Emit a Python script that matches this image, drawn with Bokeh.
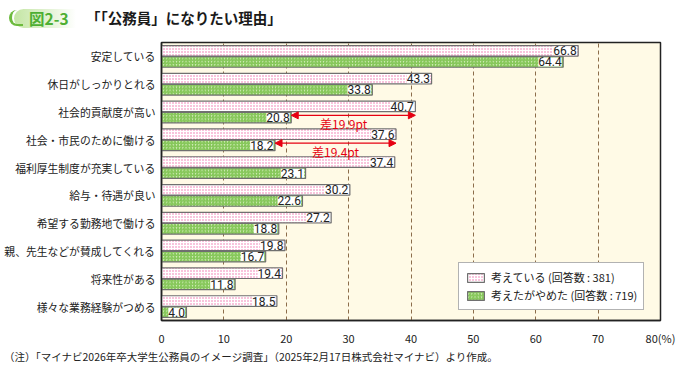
from bokeh.plotting import figure
from bokeh.models import (ColumnDataSource, Range1d, FixedTicker, LabelSet, Label,
                          Arrow, NormalHead, Legend, LegendItem, Div)
from bokeh.layouts import column
from bokeh.embed import file_html
from bokeh.resources import INLINE
from bokeh.core.properties import value

# ---------------- data ----------------
categories = ["安定している", "休日がしっかりとれる", "社会的貢献度が高い",
              "社会・市民のために働ける", "福利厚生制度が充実している", "給与・待遇が良い",
              "希望する勤務地で働ける", "親、先生などが賛成してくれる", "将来性がある",
              "様々な業務経験がつめる"]
considering = [66.8, 43.3, 40.7, 37.6, 37.4, 30.2, 27.2, 19.8, 19.4, 18.5]
gave_up = [64.4, 33.8, 20.8, 18.2, 23.1, 22.6, 18.8, 16.7, 11.8, 4.0]
series_names = ["考えている (回答数 : 381)", "考えたがやめた (回答数 : 719)"]
x_ticks = [0, 10, 20, 30, 40, 50, 60, 70, 80]
x_tick_labels = ["0", "10", "20", "30", "40", "50", "60", "70", "80(%)"]
diff_rows = [2, 3]
diff_from = [20.8, 18.2]
diff_to = [40.7, 37.6]
diff_text = ["差19.9pt", "差19.4pt"]
diff_text_x = [29.2, 27.9]
title_text = "「「公務員」になりたい理由」"
badge_text = "図2-3"
note_text = "（注）「マイナビ2026年卒大学生公務員のイメージ調査」（2025年2月17日株式会社マイナビ）より作成。"

FONT = "Noto Sans CJK JP"
NUMFONT = "'Liberation Sans Narrow', Roboto, sans-serif"

n = len(categories)
centers = [n - 0.5 - i for i in range(n)]
src = ColumnDataSource(dict(
    cat=categories,
    y_pink=[c + 0.2 for c in centers],
    y_green=[c - 0.2 for c in centers],
    v1=considering, v2=gave_up,
    t1=[f"{v:.1f}" for v in considering],
    t2=[f"{v:.1f}" for v in gave_up],
))

W = 691
p = figure(width=W, height=316, output_backend="svg", toolbar_location=None,
           x_range=Range1d(0, 80), y_range=Range1d(0, n),
           min_border_left=161, min_border_right=31, min_border_top=10,
           min_border_bottom=16, margin=(0, 0, 0, 0))
p.background_fill_color = "#FFFAE6"
p.border_fill_color = "white"
p.outline_line_color = "#222222"
p.outline_line_width = 1.5

# grid
p.ygrid.grid_line_color = None
p.xgrid.ticker = FixedTicker(ticks=x_ticks)
p.xgrid.grid_line_color = "#8C6D4B"
p.xgrid.grid_line_dash = "4 3"
p.xgrid.grid_line_width = 1

# bars
r1 = p.hbar(y="y_pink", left=0, right="v1", height=0.38, source=src,
            fill_color="white", hatch_pattern="dot", hatch_color="#F06AA6",
            hatch_scale=3, hatch_weight=1.0,
            line_color="#707070", line_width=1.2)
r2 = p.hbar(y="y_green", left=0, right="v2", height=0.38, source=src,
            fill_color="#D6EFBE", hatch_pattern="right_diagonal_line",
            hatch_color="#80C452", hatch_scale=3.2, hatch_weight=1.3,
            line_color="#707070", line_width=1.2)

# value labels
for xcol, ycol, tcol in (("v1", "y_pink", "t1"), ("v2", "y_green", "t2")):
    ls = LabelSet(x=xcol, y=ycol, text=tcol, source=src, text_align="right",
                  text_baseline="middle", x_offset=-1.5,
                  text_font=value(NUMFONT), text_font_size="12px",
                  text_color="#222222", background_fill_color="white")
    p.add_layout(ls)

# difference arrows
for row, a, b, t, tx in zip(diff_rows, diff_from, diff_to, diff_text, diff_text_x):
    yc = centers[row]
    arr = Arrow(x_start=a, x_end=b, y_start=yc - 0.12, y_end=yc - 0.12,
                line_color="#E60012", line_width=1.3,
                start=NormalHead(size=7, fill_color="#E60012", line_color="#E60012"),
                end=NormalHead(size=7, fill_color="#E60012", line_color="#E60012"))
    p.add_layout(arr)
    p.add_layout(Label(x=tx, y=yc - 0.43, text=t, text_align="center",
                       text_baseline="middle", text_color="#E60012",
                       text_font=FONT, text_font_size="12px"))

# axes
p.xaxis.ticker = FixedTicker(ticks=x_ticks)
p.xaxis.major_label_overrides = {t: l for t, l in zip(x_ticks, x_tick_labels)}
p.xaxis.major_tick_line_color = None
p.xaxis.minor_tick_line_color = None
p.xaxis.axis_line_color = "#222222"
p.xaxis.axis_line_width = 1.5
p.xaxis.major_label_standoff = 3
p.xaxis.major_label_text_font = FONT
p.xaxis.major_label_text_font_size = "11px"
p.xaxis.major_label_text_color = "#222222"

p.yaxis.ticker = FixedTicker(ticks=centers)
p.yaxis.major_label_overrides = {c: cat for c, cat in zip(centers, categories)}
p.yaxis.major_tick_line_color = None
p.yaxis.minor_tick_line_color = None
p.yaxis.major_tick_out = 0
p.yaxis.major_tick_in = 0
p.yaxis.minor_tick_out = 0
p.yaxis.axis_line_color = "#222222"
p.yaxis.axis_line_width = 1.5
p.yaxis.major_label_standoff = 6
p.yaxis.major_label_text_font = FONT
p.yaxis.major_label_text_font_size = "10.8px"
p.yaxis.major_label_text_color = "#222222"

# legend
legend = Legend(items=[LegendItem(label=series_names[0], renderers=[r1]),
                       LegendItem(label=series_names[1], renderers=[r2])],
                location=(297, 10), glyph_width=21, glyph_height=11,
                label_text_font=FONT, label_text_font_size="11px",
                label_text_color="#222222", spacing=2, padding=6,
                label_height=15, label_standoff=5,
                border_line_color="#666666", border_line_width=1.5,
                background_fill_color="white", background_fill_alpha=1.0)
p.add_layout(legend)

# title row
title_html = f"""
<div style="position:relative;width:{W}px;height:32px;font-family:'Noto Sans CJK JP',sans-serif;">
  <div style="position:absolute;left:14px;top:9px;width:62px;height:19px;border-radius:10px 0 0 10px;
       background:linear-gradient(to right,#C4E6A4 0%,#E2F2D3 55%,#FFFFFF 100%);"></div>
  <div style="position:absolute;left:9px;top:10px;width:14px;height:16px;border-radius:12px 0 0 12px;
       border-left:3px solid #6DBB3E;border-bottom:2px solid #6DBB3E;"></div>
  <div style="position:absolute;left:29px;top:7px;font-size:15.5px;font-weight:bold;color:#4DAF32;
       line-height:22px;white-space:nowrap;">{badge_text}</div>
  <div style="position:absolute;left:86px;top:7px;font-size:14.5px;font-weight:bold;color:#1A1A1A;
       line-height:22px;white-space:nowrap;">{title_text}</div>
</div>
"""
title_div = Div(text=title_html, width=W, height=32, margin=(0, 0, 0, 0))

note_html = f"""
<div style="position:relative;width:{W}px;height:18px;font-family:'Noto Sans CJK JP',sans-serif;
     font-size:10.5px;color:#222222;line-height:18px;white-space:nowrap;padding-left:4px;">{note_text}</div>
"""
note_div = Div(text=note_html, width=W, height=18, margin=(0, 0, 0, 0))

layout = column(title_div, p, note_div, spacing=0)

open("out.html", "w").write(file_html(layout, INLINE))
